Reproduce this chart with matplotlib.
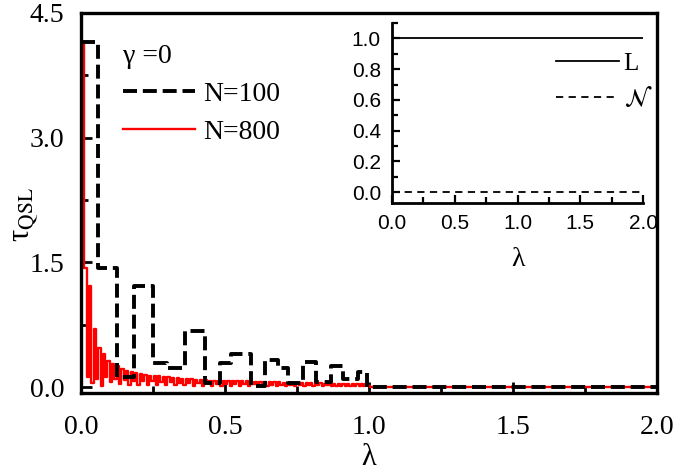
import numpy as np
import matplotlib
matplotlib.use('Agg')
import matplotlib.pyplot as plt
from matplotlib.ticker import MultipleLocator

plt.rcParams['font.family'] = 'serif'
plt.rcParams['font.serif'] = ['Liberation Serif', 'DejaVu Serif']
plt.rcParams['mathtext.fontset'] = 'stix'

# N=100 : step curve, edges in lambda and tau values between edges
n100_edges = [0, 0.059, 0.125, 0.185, 0.25, 0.30, 0.362, 0.432, 0.482, 0.52,
              0.59, 0.64, 0.685, 0.718, 0.77, 0.815, 0.868, 0.909, 0.962, 0.995, 2.0]
n100_tau = [4.15, 1.43, 0.12, 1.215, 0.29, 0.23, 0.67, 0.05, 0.29, 0.40,
            0.01, 0.33, 0.23, 0.05, 0.30, 0.06, 0.26, 0.10, 0.18, 0.0]

# N=800 : fast oscillation, one value per step of width 0.008 (first step a bit wider)
n800_step = 0.008
n800_first = 0.012
n800_tau = [
    4.15, 1.43, 0.12, 1.22, 0.05, 0.70, 0.10, 0.47, 0.02, 0.40,
    0.12, 0.32, 0.06, 0.28, 0.10, 0.25, 0.04, 0.22, 0.09, 0.20,
    0.03, 0.18, 0.08, 0.17, 0.03, 0.16, 0.07, 0.15, 0.03, 0.14,
    0.07, 0.13, 0.03, 0.13, 0.06, 0.12, 0.03, 0.12, 0.06, 0.11,
    0.03, 0.11, 0.05, 0.10, 0.03, 0.10, 0.05, 0.10, 0.02, 0.09,
    0.05, 0.09, 0.02, 0.09, 0.05, 0.08, 0.02, 0.08, 0.04, 0.08,
    0.02, 0.08, 0.04, 0.07, 0.02, 0.07, 0.04, 0.07, 0.02, 0.07,
    0.04, 0.07, 0.02, 0.06, 0.04, 0.06, 0.02, 0.06, 0.03, 0.06,
    0.02, 0.06, 0.03, 0.06, 0.01, 0.06, 0.03, 0.05, 0.01, 0.05,
    0.03, 0.05, 0.01, 0.05, 0.03, 0.05, 0.01, 0.05, 0.03, 0.05,
    0.01, 0.05, 0.03, 0.05, 0.01, 0.04, 0.03, 0.04, 0.01, 0.04,
    0.02, 0.04, 0.01, 0.04, 0.02, 0.04, 0.01, 0.04, 0.02, 0.04,
    0.01, 0.04, 0.02, 0.04, 0.01,
]

# inset
inset_lam = [0.0, 2.0]
inset_L = [1.0, 1.0]
inset_N = [0.0, 0.0]

fig = plt.figure(figsize=(6.75, 4.73), dpi=100)
ax = fig.add_axes([0.12, 0.169, 0.853, 0.804])

x800 = [0.0] + list(n800_first + np.arange(len(n800_tau)) * n800_step) + [2.0]
y800 = n800_tau + [0.0, 0.0]
ax.step(x800, y800, where='post', color='red', lw=1.7, label='N=800', zorder=2)
ax.step(n100_edges, n100_tau + [n100_tau[-1]], where='post', color='black',
        lw=2.8, ls=(0, (3.6, 1.5)), label='N=100', zorder=3)

ax.set_xlim(0, 2.0)
ax.set_ylim(-0.07, 4.5)
ax.xaxis.set_major_locator(MultipleLocator(0.5))
ax.xaxis.set_minor_locator(MultipleLocator(0.25))
ax.yaxis.set_major_locator(MultipleLocator(1.5))
ax.yaxis.set_minor_locator(MultipleLocator(0.75))
ax.xaxis.set_major_formatter(plt.FormatStrFormatter('%.1f'))
ax.yaxis.set_major_formatter(plt.FormatStrFormatter('%.1f'))
ax.tick_params(which='both', direction='in', width=2, labelsize=20)
ax.tick_params(which='major', length=8)
ax.tick_params(which='minor', length=5)
ax.tick_params(axis='x', pad=16)
ax.tick_params(axis='y', pad=12)
for s in ax.spines.values():
    s.set_linewidth(2.4)
ax.set_xlabel('λ', fontsize=22, labelpad=2)
ax.set_ylabel(r'τ$_{\rm QSL}$', fontsize=22)
ax.yaxis.set_label_coords(-0.07, 0.47)

h, l = ax.get_legend_handles_labels()
leg = ax.legend(h[::-1], l[::-1], title='γ =0', loc='upper left',
                bbox_to_anchor=(123 / 675, 1 - 44 / 473), bbox_transform=fig.transFigure,
                frameon=False, fontsize=20, title_fontsize=20, handlelength=2.6,
                handletextpad=0.3, labelspacing=0.45, borderpad=0, borderaxespad=0,
                alignment='left')

# inset axes
ins = fig.add_axes([392 / 675, 1 - 203 / 473, 251 / 675, 180 / 473])
ins.plot(inset_lam, inset_L, color='black', lw=1.3, label='L')
ins.plot(inset_lam, inset_N, color='black', lw=1.3, ls=(0, (4, 3)), label=r'$\mathcal{N}$')
ins.set_xlim(0, 2.0)
ins.set_ylim(-0.07, 1.1)
ins.spines['top'].set_visible(False)
ins.spines['right'].set_visible(False)
for s in ins.spines.values():
    s.set_linewidth(2)
ins.xaxis.set_major_locator(MultipleLocator(0.5))
ins.xaxis.set_minor_locator(MultipleLocator(0.25))
ins.yaxis.set_major_locator(MultipleLocator(0.2))
ins.yaxis.set_minor_locator(MultipleLocator(0.1))
ins.xaxis.set_major_formatter(plt.FormatStrFormatter('%.1f'))
ins.yaxis.set_major_formatter(plt.FormatStrFormatter('%.1f'))
ins.tick_params(which='both', direction='in', width=1.6, labelsize=15)
ins.tick_params(which='major', length=6)
ins.tick_params(which='minor', length=4)
ins.tick_params(axis='y', pad=8)
ins.tick_params(axis='x', pad=8)
for t in ins.get_xticklabels() + ins.get_yticklabels():
    t.set_family(['Liberation Sans', 'DejaVu Sans'])
ins.set_xlabel('λ', fontsize=20, labelpad=10)
ins.patch.set_alpha(0)
ins.legend(loc='upper left', bbox_to_anchor=(556 / 675, 1 - 52 / 473),
           bbox_transform=fig.transFigure, frameon=False, fontsize=18,
           handlelength=2.5, handletextpad=0.2, labelspacing=0.45,
           borderpad=0, borderaxespad=0)

fig.savefig('out.png', dpi=100)
